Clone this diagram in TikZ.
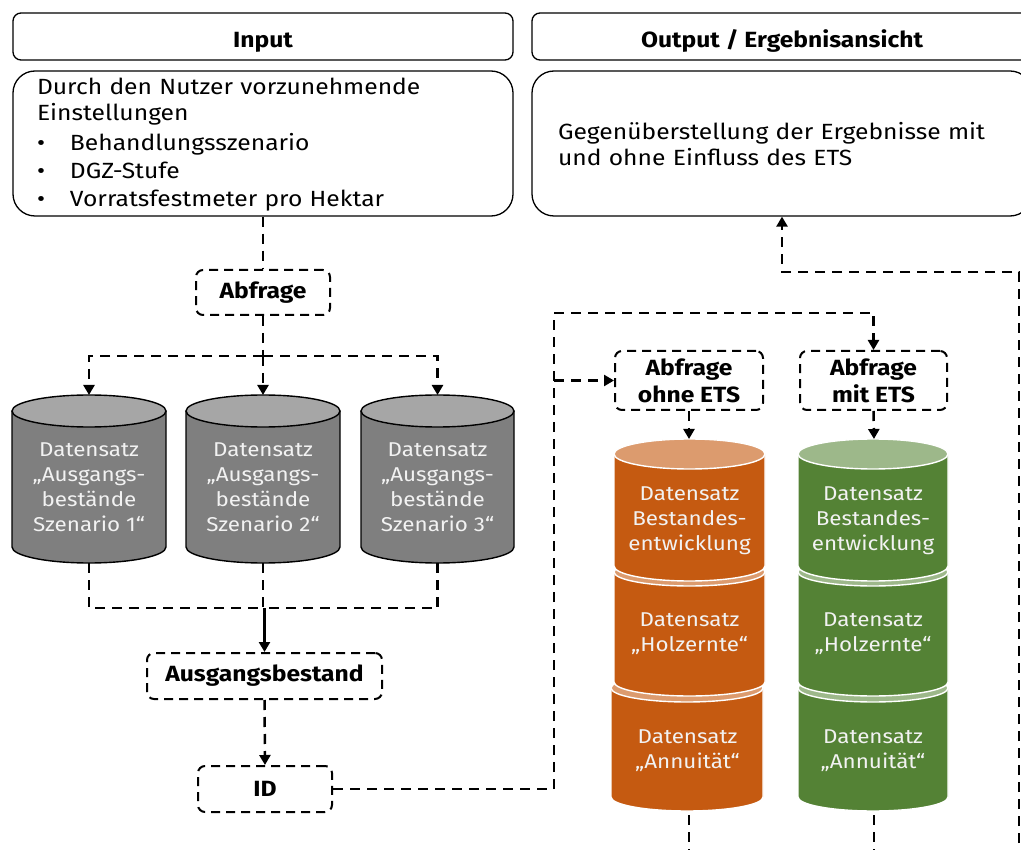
\documentclass[tikz,border=0pt]{standalone}
\usepackage{fontspec}
\setmainfont{Fira Sans}[FakeStretch=1.12]
\usetikzlibrary{arrows.meta}

\definecolor{grayBody}{HTML}{7F7F7F}
\definecolor{grayTop}{HTML}{A6A6A6}
\definecolor{canText}{HTML}{F2F2F2}
\definecolor{orangeBody}{HTML}{C55A11}
\definecolor{orangeTop}{HTML}{DC9B6E}
\definecolor{greenBody}{HTML}{548235}
\definecolor{greenTop}{HTML}{9DB88A}

% cylinder: cx, y of top ellipse centre, y of bottom ellipse centre, rx, ry, body colour, top colour, outline colour
\newcommand{\drawcan}[8]{%
  \fill[#6] ({#1-#4},#2) -- ({#1-#4},#3)
    arc[start angle=180,end angle=0,x radius=#4,y radius=#5]
    -- ({#1+#4},#2) -- cycle;
  \draw[#8,line width=1.4pt] ({#1-#4},#2) -- ({#1-#4},#3)
    arc[start angle=180,end angle=0,x radius=#4,y radius=#5]
    -- ({#1+#4},#2);
  \draw[#8,line width=1.4pt,fill=#7] (#1,#2) ellipse[x radius=#4,y radius=#5];
}

\tikzset{
  headbox/.style={draw,line width=1.3pt,rounded corners=8pt,minimum width=500pt,
    minimum height=47pt,font=\fontsize{22}{26}\selectfont\bfseries,
    text height=22pt,text depth=0pt},
  contentbox/.style={draw,line width=1.3pt,rounded corners=22pt,minimum width=500pt,
    minimum height=145pt,inner xsep=0pt,align=left,
    font=\fontsize{22}{28}\selectfont},
  qbox/.style={draw,line width=2pt,dash pattern=on 9pt off 6pt,rounded corners=7pt,
    font=\fontsize{22}{27}\selectfont\bfseries,align=center,inner sep=0pt},
  cantext/.style={text=canText,align=center,font=\fontsize{20}{25}\selectfont},
  conn/.style={line width=2.5pt,dash pattern=on 10pt off 7pt},
  tip/.style={-{Triangle[width=11pt,length=10pt]}},
}

\begin{document}
\begin{tikzpicture}[x=1pt,y=-1pt]
\useasboundingbox (0,0) rectangle (1021,850);
\clip (0,0) rectangle (1021,850);

% headers
\node[headbox] (inhead) at (263,36.5) {Input};
\node[headbox] (outhead) at (782,36.5) {Output / Ergebnisansicht};

% content boxes
\node[contentbox,text width=452pt] (inbox) at (263,143.5)
  {\rule{0pt}{18pt}Durch den Nutzer vorzunehmende\\[-2pt]
   Einstellungen\\[2pt]
   \makebox[33pt][l]{\textbullet}Behandlungsszenario\\
   \makebox[33pt][l]{\textbullet}DGZ-Stufe\\
   \makebox[33pt][l]{\textbullet}Vorratsfestmeter pro Hektar};
\node[contentbox,text width=448pt,font=\fontsize{22}{26}\selectfont] (outbox) at (782,143.5)
  {\rule{0pt}{18pt}Gegenüberstellung der Ergebnisse mit\\
   und ohne Einfluss des ETS};

% query boxes
\node[qbox,minimum width=134pt,minimum height=45pt] (abf) at (263,292.5) {Abfrage};
\node[qbox,minimum width=235pt,minimum height=46pt] (ausg) at (264.5,676) {Ausgangsbestand};
\node[qbox,minimum width=134pt,minimum height=46pt] (id) at (265,789) {ID};
\node[qbox,minimum width=148pt,minimum height=59pt] (q1) at (689,380.5) {Abfrage\\ohne ETS};
\node[qbox,minimum width=147pt,minimum height=59pt] (q2) at (873.5,380.5) {Abfrage\\mit ETS};

% grey data sets
\drawcan{89}{411}{547}{77}{16}{grayBody}{grayTop}{black}
\drawcan{263}{411}{547}{77}{16}{grayBody}{grayTop}{black}
\drawcan{437.5}{411}{547}{76.5}{16}{grayBody}{grayTop}{black}
\node[cantext] (g1) at (89,487) {Datensatz\\„Ausgangs-\\bestände\\Szenario 1“};
\node[cantext] (g2) at (263,487) {Datensatz\\„Ausgangs-\\bestände\\Szenario 2“};
\node[cantext] (g3) at (437.5,487) {Datensatz\\„Ausgangs-\\bestände\\Szenario 3“};
\coordinate (g1t) at (89,395);  \coordinate (g1b) at (89,563);
\coordinate (g2t) at (263,395); \coordinate (g2b) at (263,563);
\coordinate (g3t) at (437.5,395); \coordinate (g3b) at (437.5,563);

% orange stack (without ETS)
\drawcan{687}{688}{797}{76}{14}{orangeBody}{orangeTop}{white}
\drawcan{689.5}{572}{682}{75.5}{14}{orangeBody}{orangeTop}{white}
\drawcan{689.5}{454}{566}{75.5}{15}{orangeBody}{orangeTop}{white}
\node[cantext] (oA) at (689.5,521) {Datensatz\\Bestandes-\\entwicklung};
\node[cantext] (oB) at (689.5,634) {Datensatz\\„Holzernte“};
\node[cantext] (oC) at (687.5,751) {Datensatz\\„Annuität“};
\coordinate (oT) at (689,439); \coordinate (oE) at (689,815);

% green stack (with ETS)
\drawcan{873}{688}{797}{75}{14}{greenBody}{greenTop}{white}
\drawcan{873}{572}{682}{75}{14}{greenBody}{greenTop}{white}
\drawcan{873}{454}{566}{75}{15}{greenBody}{greenTop}{white}
\node[cantext] (gA) at (873,521) {Datensatz\\Bestandes-\\entwicklung};
\node[cantext] (gB) at (873,634) {Datensatz\\„Holzernte“};
\node[cantext] (gC) at (873,751) {Datensatz\\„Annuität“};
\coordinate (gT) at (874,439); \coordinate (gE) at (874,815);

% connectors: input side
\coordinate (split) at (263,356);
\coordinate (merge) at (264.5,608);
\draw[conn] (inbox.south) -- (abf.north);
\draw[conn] (abf.south) -- (split);
\draw[conn,tip] (split) -| (g1t);
\draw[conn,tip] (split) -- (g2t);
\draw[conn,tip] (split) -| (g3t);
\draw[conn] (g1b) |- (merge);
\draw[conn] (g3b) |- (merge);
\draw[conn] (g2b) -- (g2b |- merge);
\draw[line width=2.5pt,tip] (merge) -- (ausg.north);
\draw[conn,tip] (ausg.south) -- (id.north);

% connectors: queries
\coordinate (turn) at (554,313);
\coordinate (branch) at (turn |- q1.west);
\draw[conn,tip] (id.east) -| (turn) -| (q2.north);
\draw[conn,tip] (branch) -- (q1.west);
\draw[conn,tip] (q1.south) -- (oT);
\draw[conn,tip] (q2.south) -- (gT);

% connectors: results back to output
\coordinate (oOut) at (689,860);
\coordinate (gOut) at (874,860);
\coordinate (ret) at (1019,860);
\coordinate (retTop) at (1019,272);
\draw[conn] (oE) -- (oOut);
\draw[conn] (gE) -- (gOut);
\draw[conn,tip] (ret) -- (retTop) -| (outbox.south);
\end{tikzpicture}
\end{document}
